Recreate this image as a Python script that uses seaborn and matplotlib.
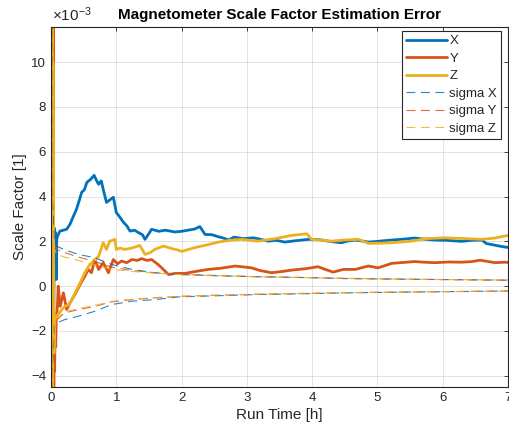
import numpy as np
import pandas as pd
import matplotlib
matplotlib.use("Agg")
import matplotlib.pyplot as plt
import seaborn as sns

sns.set_theme(style="white")
plt.rcParams['font.family'] = ['Liberation Sans', 'DejaVu Sans']
plt.rcParams['mathtext.fontset'] = 'custom'
plt.rcParams['mathtext.rm'] = 'Liberation Sans'
plt.rcParams['mathtext.it'] = 'Liberation Sans:italic'

# ---- data (values in units of 1e-3) ----
t_x = [0.0, 0.008, 0.016, 0.026, 0.038, 0.05, 0.06, 0.07, 0.08, 0.087, 0.11, 0.138, 0.19, 0.24, 0.29, 0.34, 0.39,
       0.43, 0.47, 0.51, 0.55, 0.6, 0.66, 0.7, 0.73, 0.77, 0.81, 0.85, 0.9, 0.955, 1.0, 1.05, 1.11, 1.16, 1.21,
       1.28, 1.34, 1.4, 1.44, 1.5, 1.54, 1.65, 1.75, 1.9, 2.0, 2.1, 2.2, 2.28, 2.36, 2.46, 2.56, 2.64, 2.72,
       2.8, 2.95, 3.1, 3.2, 3.33, 3.45, 3.58, 3.75, 3.94, 4.1, 4.25, 4.35, 4.45, 4.55, 4.66, 4.76, 4.86, 5.0,
       5.1, 5.22, 5.4, 5.57, 5.72, 5.88, 6.05, 6.29, 6.45, 6.6, 6.67, 6.75, 6.85, 6.95, 7.0]
v_x = [0.0, 25.0, -6.0, 20.0, -4.0, 2.6, 1.0, 2.4, 0.3, 2.1, 2.3, 2.46, 2.5, 2.54, 2.76, 3.1, 3.43,
       3.8, 4.19, 4.3, 4.64, 4.75, 4.95, 4.7, 4.55, 4.7, 4.2, 3.74, 3.85, 3.97, 3.29, 3.1, 2.85, 2.7, 2.46,
       2.5, 2.39, 2.3, 2.09, 2.35, 2.54, 2.45, 2.5, 2.42, 2.45, 2.5, 2.55, 2.66, 2.31, 2.3, 2.21, 2.15, 2.06,
       2.19, 2.12, 2.16, 2.1, 2.01, 2.05, 1.97, 2.03, 2.09, 2.08, 2.01, 1.97, 1.94, 2.02, 2.06, 2.02, 1.97, 2.0,
       2.03, 2.06, 2.1, 2.15, 2.1, 2.06, 2.05, 2.0, 2.05, 2.06, 1.9, 1.86, 1.8, 1.75, 1.73]

t_y = [0.0, 0.028, 0.034, 0.04, 0.048, 0.056, 0.064, 0.072, 0.08, 0.09, 0.1, 0.11, 0.14, 0.19, 0.24, 0.28,
       0.32, 0.37, 0.42, 0.47, 0.52, 0.57, 0.62, 0.67, 0.73, 0.8, 0.88, 0.955, 1.02, 1.08, 1.16, 1.24, 1.32,
       1.39, 1.47, 1.54, 1.64, 1.72, 1.8, 1.9, 2.05, 2.2, 2.41, 2.6, 2.82, 3.07, 3.2, 3.38, 3.55, 3.69, 3.9,
       4.09, 4.2, 4.32, 4.48, 4.66, 4.86, 5.01, 5.22, 5.4, 5.57, 5.72, 5.88, 6.1, 6.29, 6.45, 6.57, 6.7, 6.8,
       6.95, 7.0]
v_y = [0.0, 0.0, 25.0, -12.0, -2.0, -3.8, -1.6, -2.7, -1.5, -1.2, -0.8, 0.0, -0.9, -0.3, -1.04, -0.8,
       -0.6, -0.35, -0.07, 0.2, 0.45, 0.75, 0.6, 1.19, 0.75, 1.05, 0.6, 1.19, 1.0, 1.12, 1.05, 1.19, 1.15,
       1.23, 1.15, 1.19, 0.97, 0.75, 0.52, 0.57, 0.57, 0.65, 0.75, 0.8, 0.9, 0.82, 0.7, 0.6, 0.66, 0.72, 0.78,
       0.87, 0.75, 0.63, 0.75, 0.75, 0.9, 0.82, 1.02, 1.06, 1.1, 1.07, 1.05, 1.08, 1.07, 1.1, 1.16, 1.1, 1.05,
       1.07, 1.06]

t_z = [0.0, 0.004, 0.01, 0.016, 0.022, 0.03, 0.045, 0.06, 0.1, 0.15, 0.21, 0.26, 0.32, 0.37, 0.42, 0.47,
       0.52, 0.58, 0.65, 0.73, 0.8, 0.85, 0.9, 0.98, 1.0, 1.06, 1.13, 1.2, 1.26, 1.36, 1.44, 1.52, 1.59, 1.72,
       1.85, 1.95, 2.0, 2.2, 2.4, 2.56, 2.75, 2.92, 3.17, 3.43, 3.69, 3.92, 3.99, 4.15, 4.3, 4.48, 4.71, 4.86,
       5.05, 5.22, 5.52, 5.73, 6.03, 6.39, 6.6, 6.8, 6.95, 7.0]
v_z = [0.0, 30.0, -20.0, 25.0, -15.0, 10.0, -3.0, -1.49, -1.3, -1.1, -0.9, -0.85, -0.6, -0.3, 0.0, 0.3,
       0.61, 0.9, 1.12, 1.34, 1.94, 1.64, 2.01, 2.09, 1.64, 1.7, 1.64, 1.68, 1.72, 1.82, 1.42, 1.5, 1.64, 1.79,
       1.68, 1.61, 1.55, 1.72, 1.85, 1.97, 2.05, 2.09, 2.01, 2.12, 2.27, 2.34, 2.09, 2.05, 2.01, 2.06, 2.09, 1.91,
       1.92, 1.94, 2.01, 2.12, 2.16, 2.12, 2.09, 2.15, 2.24, 2.26]

t_s = [0.0, 0.02, 0.05, 0.087, 0.21, 0.42, 0.67, 0.93, 1.24, 1.59, 1.95, 2.5, 3.2, 4.0, 4.48, 5.5, 6.9, 7.0]
sx_up = [40.0, 4.0, 2.1, 1.79, 1.62, 1.42, 1.27, 0.97, 0.75, 0.6, 0.52, 0.47, 0.42, 0.38, 0.34, 0.31, 0.27, 0.27]
sy_up = [40.0, 3.5, 1.9, 1.64, 1.5, 1.3, 1.1, 0.85, 0.7, 0.6, 0.54, 0.48, 0.42, 0.38, 0.35, 0.31, 0.27, 0.27]
sz_up = [40.0, 3.0, 1.7, 1.42, 1.3, 1.15, 0.95, 0.75, 0.66, 0.58, 0.52, 0.47, 0.42, 0.38, 0.35, 0.31, 0.28, 0.28]
sx_lo = [-40.0, -4.0, -1.8, -1.64, -1.49, -1.34, -1.12, -0.82, -0.67, -0.6, -0.48, -0.43, -0.37, -0.33, -0.3, -0.26, -0.22, -0.22]
sy_lo = [-40.0, -3.5, -1.7, -1.5, -1.19, -1.05, -0.9, -0.7, -0.6, -0.52, -0.46, -0.41, -0.36, -0.32, -0.29, -0.26, -0.22, -0.22]
sz_lo = [-40.0, -3.0, -1.6, -1.42, -1.15, -1.0, -0.86, -0.68, -0.58, -0.51, -0.45, -0.4, -0.35, -0.31, -0.29, -0.25, -0.22, -0.22]

x_ticks = [0, 1, 2, 3, 4, 5, 6, 7]
y_ticks = [-4, -2, 0, 2, 4, 6, 8, 10]

c_x, c_y, c_z = "#0072BD", "#D95319", "#EDB120"

fig = plt.figure(figsize=(5.09, 4.34), dpi=100)
ax = fig.add_axes([51 / 509, 1 - 387 / 434, 457 / 509, 360 / 434])

for t, v, c, lab in [(t_x, v_x, c_x, "X"), (t_y, v_y, c_y, "Y"), (t_z, v_z, c_z, "Z")]:
    sns.lineplot(x=t, y=v, ax=ax, color=c, linewidth=2.0, label=lab, sort=False, estimator=None)

for up, lo, c, lab in [(sx_up, sx_lo, c_x, "sigma X"), (sy_up, sy_lo, c_y, "sigma Y"), (sz_up, sz_lo, c_z, "sigma Z")]:
    sns.lineplot(x=t_s, y=up, ax=ax, color=c, linewidth=0.8, linestyle=(0, (8, 5)), label=lab,
                 sort=False, estimator=None, alpha=0.85)
    sns.lineplot(x=t_s, y=lo, ax=ax, color=c, linewidth=0.8, linestyle=(0, (8, 5)), label="_nolegend_",
                 sort=False, estimator=None, alpha=0.85)

ax.set_xlim(0, 7)
ax.set_ylim(-4.5, 11.57)
ax.set_xticks(x_ticks)
ax.set_yticks(y_ticks)
ax.grid(True, color="#262626", alpha=0.15, linewidth=0.6)
ax.tick_params(direction="in", length=3, width=0.6, colors="#262626", labelsize=9.5,
               top=True, right=True, labelcolor="#262626")
for s in ax.spines.values():
    s.set_color("#262626")
    s.set_linewidth(0.8)

ax.set_xlabel("Run Time [h]", fontsize=11, color="#262626", labelpad=3)
ax.set_ylabel("Scale Factor [1]", fontsize=11, color="#262626", labelpad=3)
ax.set_title("Magnetometer Scale Factor Estimation Error", fontsize=11, fontweight="bold", color="black", pad=6)
fig.text(52 / 509, 1 - 15 / 434, r"$\times10^{-3}$", fontsize=11, color="#262626", va="center", ha="left")

leg = ax.legend(loc="upper right", bbox_to_anchor=(1 - 7 / 457, 1 - 4 / 360), borderaxespad=0,
                fontsize=9.5, handlelength=3.1, handletextpad=0.15, labelspacing=0.4,
                borderpad=0.3, fancybox=False, framealpha=1, edgecolor="#262626")
leg.get_frame().set_linewidth(0.8)
for txt in leg.get_texts():
    txt.set_color("#262626")

fig.savefig("out.png", dpi=100)
